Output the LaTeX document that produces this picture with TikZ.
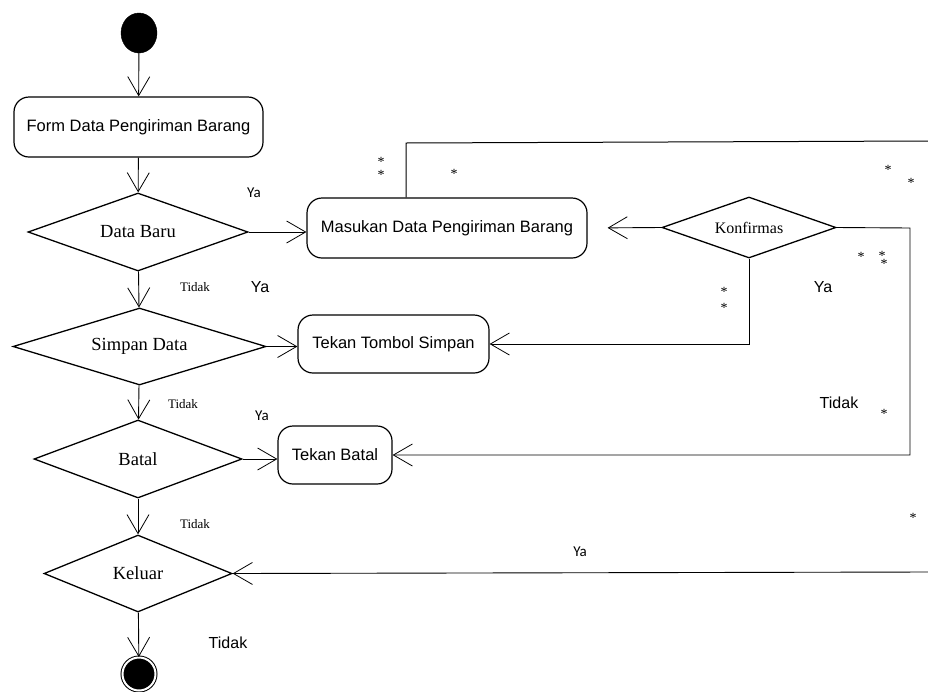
\documentclass[tikz,border=0pt]{standalone}
\usepackage{fontspec}
\setmainfont{Liberation Serif}
\setsansfont{Liberation Sans}
\newfontfamily\carlitofont{Carlito}
\usetikzlibrary{shapes.geometric,arrows.meta}
\tikzset{
  flow/.style={line width=0.9pt, -{Straight Barb[length=19pt,width=22pt,line width=0.8pt]}},
  plain/.style={line width=1pt},
  actbox/.style={draw, line width=1.2pt, rounded corners=15pt, inner sep=0pt, font=\sffamily\fontsize{16.5}{18}\selectfont},
  decide/.style={draw, diamond, line width=1.3pt, inner sep=0pt, aspect=2.8, font=\fontsize{18.5}{20}\selectfont},
  smallya/.style={inner sep=0pt, font=\carlitofont\fontsize{15}{16}\selectfont},
  bigtxt/.style={inner sep=0pt, font=\sffamily\fontsize{16}{18}\selectfont},
  smtidak/.style={inner sep=0pt, font=\fontsize{13}{14}\selectfont},
  starmark/.style={inner sep=0pt, font=\fontsize{14}{14}\selectfont},
}
\begin{document}
\begin{tikzpicture}[x=1pt,y=-1pt]
\useasboundingbox (0,0) rectangle (928,691);
% start / end
\node[draw, ellipse, fill=black, minimum width=36pt, minimum height=40pt, inner sep=0pt] (start) at (139,33) {};
\node[circle, draw=black, fill=black, double=white, double distance=2pt, line width=1pt, minimum size=33pt, inner sep=0pt] (end) at (139,674) {};
% activities
\node[actbox, minimum width=249pt, minimum height=60pt] (form) at (138.5,127) {Form Data Pengiriman Barang};
\node[actbox, minimum width=280pt, minimum height=60pt] (mas) at (447,228) {Masukan Data Pengiriman Barang};
\node[actbox, minimum width=191pt, minimum height=58pt] (tts) at (393.5,344) {Tekan Tombol Simpan};
\node[actbox, minimum width=114pt, minimum height=58pt] (tb) at (335,455) {Tekan Batal};
% decisions
\node[decide, minimum width=220pt, minimum height=78pt] (db) at (138,232) {Data Baru};
\node[decide, minimum width=253pt, minimum height=77pt] (sd) at (139.5,346.5) {Simpan Data};
\node[decide, minimum width=208pt, minimum height=78pt] (bt) at (138,459) {Batal};
\node[decide, minimum width=188pt, minimum height=77pt] (kl) at (138,573.5) {Keluar};
\node[decide, minimum width=174pt, minimum height=61pt, font=\fontsize{16}{18}\selectfont] (kf) at (749,227.5) {Konfirmas};
% free ends
\coordinate (mtop) at (406,143);
\coordinate (rtop) at (928,141);
\coordinate (kright) at (910,228);
\coordinate (kin) at (928,572);
% connectors
\draw[flow] (start) -- (form);
\draw[flow] (form) -- (db);
\draw[flow] (db) -- (sd);
\draw[flow] (sd) -- (bt);
\draw[flow] (bt) -- (kl);
\draw[flow] (kl) -- (end);
\draw[flow] (db.east) -- (db.east -| mas.west);
\draw[flow] (sd.east) -- (sd.east -| tts.west);
\draw[flow] (bt.east) -- (bt.east -| tb.west);
\draw[plain] (mtop |- mas.north) -- (mtop) -- (rtop);
\draw[flow, shorten >=20pt] (kf.west) -- (mas.east);
\draw[flow] (kf.east) -- (kright) |- (tb.east);
\draw[flow] (kf.south) |- (tts.east);
\draw[flow] (kin) -- (kl.east);
% labels
\node[smallya] (ya1) at (254,193) {Ya};
\node[smallya] (ya2) at (262,416) {Ya};
\node[smallya] (ya3) at (580,552) {Ya};
\node[bigtxt] (ya4) at (260,287) {Ya};
\node[bigtxt] (ya5) at (823,287) {Ya};
\node[bigtxt] (td1) at (839,403) {Tidak};
\node[bigtxt] (td2) at (228,643) {Tidak};
\node[smtidak] (td3) at (195,287) {Tidak};
\node[smtidak] (td4) at (183,404) {Tidak};
\node[smtidak] (td5) at (195,524) {Tidak};
% stray marks
\foreach \i/\p in {1/{(381,162)},2/{(381,175)},3/{(454,174)},4/{(888,170)},5/{(911,183)},6/{(861,257)},7/{(882,256)},8/{(884,264)},9/{(724,292)},10/{(724,308)},11/{(884,414)},12/{(913,518)}}
  \node[starmark] (s\i) at \p {*};
\end{tikzpicture}
\end{document}
